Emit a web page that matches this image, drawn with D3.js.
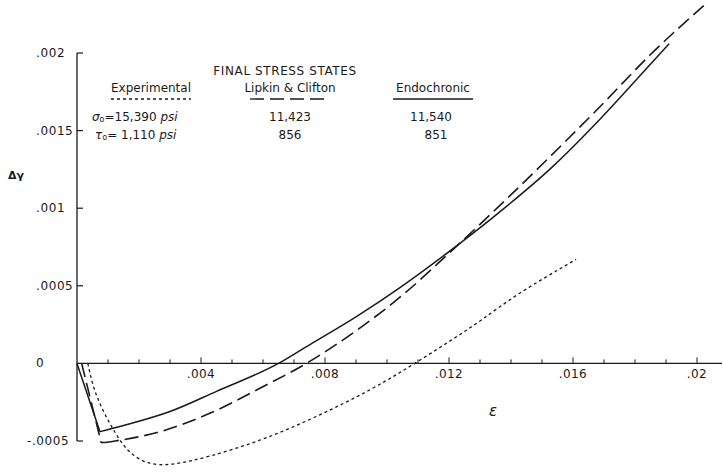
<!DOCTYPE html>
<html>
<head>
<meta charset="utf-8">
<script src="https://cdn.jsdelivr.net/npm/d3@7"></script>
<style>
  body { margin: 0; background: #fff; }
  text { font-family: 'DejaVu Sans', sans-serif; fill: #1a1a1a; }
</style>
</head>
<body>
<div id="chart"></div>
<script>
// strain (epsilon) vs change in shear strain (delta gamma)
const experimental = [
  [0.00035, 0], [0.0005, -0.00014], [0.00075, -0.00027], [0.00106, -0.00039],
  [0.00139, -0.0005], [0.00171, -0.00058], [0.00226, -0.00065], [0.003, -0.00066],
  [0.0043, -0.0006], [0.0059, -0.0005], [0.00745, -0.00037], [0.009, -0.00022],
  [0.010, -0.00011], [0.0109, 0], [0.012, 0.00014], [0.013, 0.00027],
  [0.0142, 0.00045], [0.0161, 0.00067]
]
const lipkinClifton = [
  [0.00015, 0], [0.00078, -0.00051], [0.0009, -0.00051], [0.00123, -0.0005],
  [0.00268, -0.00044], [0.0043, -0.00032], [0.0059, -0.00016], [0.0074, 0],
  [0.009, 0.00021], [0.0105, 0.00044], [0.012, 0.00071], [0.0136, 0.00101],
  [0.0153, 0.00134], [0.0169, 0.00166], [0.0185, 0.00199], [0.0203, 0.00232]
]
const endochronic = [
  [0, 0], [0.00074, -0.00044], [0.0015, -0.0004], [0.003, -0.00031],
  [0.0045, -0.00018], [0.0065, 0], [0.0075, 0.00012], [0.009, 0.0003],
  [0.0105, 0.0005], [0.012, 0.00072], [0.0136, 0.00097], [0.0153, 0.00126],
  [0.0169, 0.00158], [0.0181, 0.00184], [0.0191, 0.00206]
]

const xTicks = [0.004, 0.008, 0.012, 0.016, 0.02]
const xTickLabels = ['.004', '.008', '.012', '.016', '.02']
const yTicks = [-0.0005, 0, 0.0005, 0.001, 0.0015, 0.002]
const yTickLabels = ['-.0005', '0', '.0005', '.001', '.0015', '.002']

const legendHeads = ['Experimental', 'Lipkin & Clifton', 'Endochronic']
const sigmaRow = ['15,390', '11,423', '11,540']
const tauRow = ['1,110', '856', '851']

const width = 723
const height = 473

const svg = d3.select('#chart')
  .append('svg')
  .attr('width', width)
  .attr('height', height)

const x = d3.scaleLinear().domain([0, 0.02]).range([77, 697])
const y = d3.scaleLinear().domain([-0.0005, 0.002]).range([441, 53])

const ink = '#1a1a1a'

// y axis, ticks point right
svg.append('line')
  .attr('x1', x(0)).attr('x2', x(0))
  .attr('y1', y(0.002)).attr('y2', y(-0.0005))
  .attr('stroke', ink).attr('stroke-width', 1.3)

svg.selectAll('.ytick')
  .data(yTicks.filter(d => d !== 0))
  .enter()
  .append('line')
  .attr('class', 'ytick')
  .attr('x1', x(0)).attr('x2', x(0) + 6)
  .attr('y1', d => y(d)).attr('y2', d => y(d))
  .attr('stroke', ink).attr('stroke-width', 1.2)

svg.selectAll('.ylabel')
  .data(yTicks)
  .enter()
  .append('text')
  .attr('class', 'ylabel')
  .attr('x', d => d < 0 ? 27 : 36)
  .attr('y', d => y(d) + 4)
  .attr('font-size', 12)
  .attr('letter-spacing', 0.6)
  .text((d, i) => yTickLabels[i])

// x axis on zero line, small ticks every .001
svg.append('line')
  .attr('x1', x(0)).attr('x2', 722)
  .attr('y1', y(0)).attr('y2', y(0))
  .attr('stroke', ink).attr('stroke-width', 1.3)

svg.selectAll('.xminor')
  .data(d3.range(1, 21).map(d => d / 1000))
  .enter()
  .append('line')
  .attr('class', 'xminor')
  .attr('x1', d => x(d)).attr('x2', d => x(d))
  .attr('y1', y(0)).attr('y2', d => y(0) - (xTicks.some(t => Math.abs(t - d) < 1e-9) ? 6 : 4))
  .attr('stroke', ink).attr('stroke-width', 1)

svg.selectAll('.xlabel')
  .data(xTicks)
  .enter()
  .append('text')
  .attr('class', 'xlabel')
  .attr('x', d => x(d))
  .attr('y', y(0) + 15)
  .attr('text-anchor', 'middle')
  .attr('font-size', 12)
  .attr('letter-spacing', 0.4)
  .text((d, i) => xTickLabels[i])

svg.append('text')
  .attr('x', 493).attr('y', 416)
  .attr('text-anchor', 'middle')
  .attr('font-size', 15)
  .attr('font-style', 'italic')
  .text('ε')

svg.append('text')
  .attr('x', 8).attr('y', 179)
  .attr('font-size', 11)
  .attr('font-weight', 'bold')
  .text('Δγ')

// curves
const smooth = d3.line()
  .x(d => x(d[0]))
  .y(d => y(d[1]))
  .curve(d3.curveMonotoneX)

const straight = d3.line()
  .x(d => x(d[0]))
  .y(d => y(d[1]))

function drawSeries (data, dash, w, kink) {
  svg.append('path')
    .attr('d', straight(data.slice(0, kink + 1)))
    .attr('fill', 'none').attr('stroke', ink)
    .attr('stroke-width', w).attr('stroke-dasharray', dash)
  svg.append('path')
    .attr('d', smooth(data.slice(kink)))
    .attr('fill', 'none').attr('stroke', ink)
    .attr('stroke-width', w).attr('stroke-dasharray', dash)
}

drawSeries(endochronic, null, 1.5, 1)
drawSeries(lipkinClifton, '14,6', 1.6, 2)
svg.append('path')
  .attr('d', d3.line().x(d => x(d[0])).y(d => y(d[1])).curve(d3.curveBasis)(experimental))
  .attr('fill', 'none').attr('stroke', ink)
  .attr('stroke-width', 1.3).attr('stroke-dasharray', '3,3')

// legend block
svg.append('text')
  .attr('x', 285).attr('y', 75)
  .attr('text-anchor', 'middle')
  .attr('font-size', 12)
  .attr('letter-spacing', 0.6)
  .text('FINAL STRESS STATES')

const colX = [151, 290, 433]
const dashes = ['3,3', '14,6', null]
svg.selectAll('.head')
  .data(legendHeads)
  .enter()
  .append('text')
  .attr('class', 'head')
  .attr('x', (d, i) => colX[i])
  .attr('y', 92)
  .attr('text-anchor', 'middle')
  .attr('font-size', 12)
  .text(d => d)

svg.selectAll('.uline')
  .data(legendHeads)
  .enter()
  .append('line')
  .attr('class', 'uline')
  .attr('x1', (d, i) => colX[i] - 40)
  .attr('x2', (d, i) => colX[i] + 40)
  .attr('y1', 99).attr('y2', 99)
  .attr('stroke', ink).attr('stroke-width', 1.3)
  .attr('stroke-dasharray', (d, i) => dashes[i])

const sig = svg.append('text').attr('x', 92).attr('y', 121).attr('font-size', 12)
sig.append('tspan').attr('font-style', 'italic').text('σ')
sig.append('tspan').attr('font-size', 8).attr('dy', 1).text('o')
sig.append('tspan').attr('dy', -1).text('=' + sigmaRow[0] + ' ')
sig.append('tspan').attr('font-style', 'italic').text('psi')

const tau = svg.append('text').attr('x', 95).attr('y', 139).attr('font-size', 12)
tau.append('tspan').attr('font-style', 'italic').text('τ')
tau.append('tspan').attr('font-size', 8).attr('dy', 1).text('o')
tau.append('tspan').attr('dy', -1).text('=  ' + tauRow[0] + ' ')
tau.append('tspan').attr('font-style', 'italic').text('psi')

const valShift = [[0, 0], [-2, 3]]
svg.selectAll('.sigv')
  .data(sigmaRow.slice(1))
  .enter()
  .append('text')
  .attr('x', (d, i) => colX[i + 1] + valShift[i][0])
  .attr('y', 121)
  .attr('text-anchor', 'middle')
  .attr('font-size', 12)
  .text(d => d)

svg.selectAll('.tauv')
  .data(tauRow.slice(1))
  .enter()
  .append('text')
  .attr('x', (d, i) => colX[i + 1] + valShift[i][1])
  .attr('y', 139)
  .attr('text-anchor', 'middle')
  .attr('font-size', 12)
  .text(d => d)
</script>
</body>
</html>
